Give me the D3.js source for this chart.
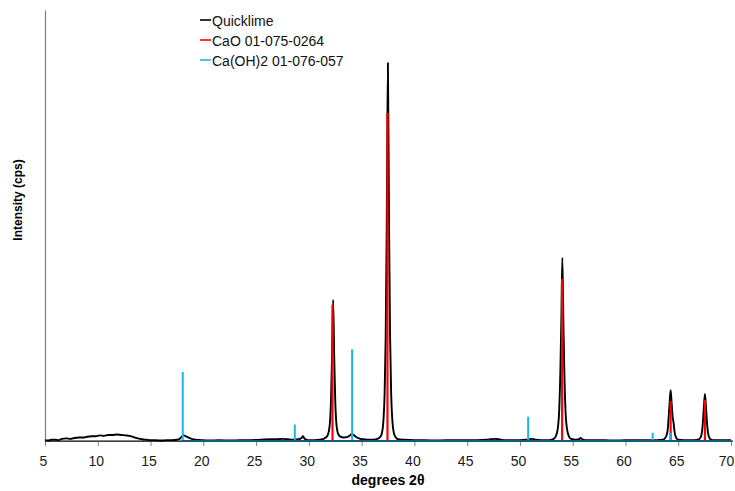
<!DOCTYPE html>
<html>
<head>
<meta charset="utf-8">
<script src="https://cdn.jsdelivr.net/npm/d3@7"></script>
<style>
  html, body { margin: 0; padding: 0; background: #fff; }
  svg { display: block; font-family: "Liberation Sans", Arial, sans-serif; }
</style>
</head>
<body>
<svg id="chart" width="735" height="491"></svg>
<script>
// ---- data ----
const xTicks = [5, 10, 15, 20, 25, 30, 35, 40, 45, 50, 55, 60, 65, 70];
const seriesNames = ["Quicklime", "CaO 01-075-0264", "Ca(OH)2 01-076-057"];
const seriesColors = ["#000000", "#ff0000", "#1fb2ea"];

// measured Quicklime pattern: [2theta, intensity]
const quicklime = [
  [5.0,2],[5.3,1],[5.6,3],[6.0,3],[6.3,2],[6.6,5],[7.0,6],[7.4,5],[7.8,7],[8.2,8],[8.6,8],
  [9.0,10],[9.4,11],[9.8,11],[10.2,13],[10.6,12],[11.0,14],[11.4,14],[11.8,15],[12.2,14],
  [12.6,13],[13.0,12],[13.4,9],[13.8,6],[14.2,4],[14.6,3],[15.0,2],[15.5,2],[16.0,1],[16.5,2],
  [17.0,2],[17.5,3],[17.8,6],[18.0,11],[18.15,13],[18.35,11],[18.6,8],[18.9,5],[19.3,3],
  [19.8,2],[20.5,1],[21.5,2],[22.5,1],[23.5,2],[24.5,2],[25.5,3],[26.5,4],[27.0,4],[27.5,5],
  [28.0,4],[28.5,3],[29.0,4],[29.3,7],[29.45,11],[29.6,5],[29.9,2],[30.5,2],[31.0,3],[31.4,5],
  [31.6,8],[31.8,14],[31.97,35],[32.1,95],[32.2,200],[32.3,327],[32.4,200],[32.5,95],[32.63,35],
  [32.8,15],[33.0,10],[33.3,8],[33.6,9],[33.85,12],[34.05,16],[34.2,15],[34.45,10],[34.75,6],
  [35.1,4],[35.6,3],[36.1,3],[36.5,5],[36.75,9],[36.92,18],[37.06,45],[37.18,110],[37.28,240],
  [37.38,500],[37.49,877],[37.6,500],[37.7,240],[37.8,110],[37.92,45],[38.06,18],[38.25,8],
  [38.5,4],[39.0,3],[40.0,2],[41.0,2],[42.0,1],[43.0,2],[44.0,2],[45.0,2],[46.0,2],[46.8,3],
  [47.2,4],[47.6,5],[48.0,4],[48.4,2],[49.0,2],[50.0,2],[50.6,3],[50.9,4],[51.2,5],[51.5,3],
  [52.0,2],[52.8,2],[53.2,5],[53.4,11],[53.58,28],[53.72,70],[53.84,170],[53.93,290],[54.02,425],
  [54.11,290],[54.2,170],[54.32,70],[54.46,28],[54.64,11],[54.85,5],[55.3,3],[55.6,4],[55.75,7],
  [55.9,4],[56.2,2],[57.0,2],[58.0,2],[59.0,1],[60.0,2],[61.0,2],[62.0,2],[63.0,2],[63.55,3],
  [63.8,8],[63.98,22],[64.12,65],[64.2,95],[64.28,118],[64.37,90],[64.46,58],[64.56,42],
  [64.66,20],[64.82,7],[65.0,3],[65.5,2],[66.5,2],[66.95,4],[67.15,10],[67.3,32],[67.42,75],
  [67.53,109],[67.64,75],[67.75,35],[67.88,12],[68.05,4],[68.3,2],[69.0,2],[70.0,2]
];

// reference stick patterns: [2theta, intensity]
const caoPeaks = [[32.24,316],[37.45,761],[54.0,376],[64.28,93],[67.53,95]];
const caoh2Peaks = [[18.05,160],[28.67,38],[34.1,213],[47.1,3],[50.78,56],[59.35,4],[62.58,19],[64.25,19]];

// ---- layout ----
const svg = d3.select("#chart");
const x = d3.scaleLinear().domain([5, 70]).range([45, 731]);
const y = d3.scaleLinear().domain([0, 1000]).range([441, 10]);

// y axis (no ticks)
const yAxis = svg.append("g")
  .attr("transform", `translate(${x(5)},0)`)
  .call(d3.axisLeft(y).tickValues([]).tickSizeOuter(0));
yAxis.select(".domain").attr("stroke", "#808080").attr("stroke-width", 1.2);

// x axis ticks + labels
const xAxis = svg.append("g")
  .attr("transform", `translate(0,${y(0)})`)
  .call(d3.axisBottom(x).tickValues(xTicks).tickSize(5).tickSizeOuter(0).tickPadding(10));
xAxis.selectAll(".tick line").attr("stroke", "#808080");
xAxis.selectAll(".tick text")
  .attr("font-size", 14).attr("fill", "#1a1a1a")
  .attr("font-family", "'Liberation Sans', Arial, sans-serif")
  .attr("dx", d => d === 70 ? -5 : -2);
xAxis.select(".domain").attr("stroke", "#808080").attr("stroke-width", 1.2);

// quicklime measured line
const line = d3.line()
  .x(d => x(d[0])).y(d => y(d[1]))
  .curve(d3.curveMonotoneX);
svg.append("path")
  .datum(quicklime)
  .attr("fill", "none")
  .attr("stroke", seriesColors[0])
  .attr("stroke-width", 1.9)
  .attr("stroke-linejoin", "round")
  .attr("d", line);

// stick pattern path builder
function sticks(peaks, xEnd) {
  const p = d3.path();
  p.moveTo(x(peaks[0][0]), y(0));
  peaks.forEach(d => {
    p.lineTo(x(d[0]), y(0));
    p.lineTo(x(d[0]), y(d[1]));
    p.lineTo(x(d[0]), y(0));
  });
  p.lineTo(x(xEnd), y(0));
  return p.toString();
}

svg.append("path")
  .attr("fill", "none")
  .attr("stroke", seriesColors[1])
  .attr("stroke-width", 2.2)
  .attr("d", sticks(caoPeaks, caoPeaks[caoPeaks.length - 1][0]));

svg.append("path")
  .attr("fill", "none")
  .attr("stroke", seriesColors[2])
  .attr("stroke-width", 2)
  .attr("d", sticks(caoh2Peaks, 70));

// darken baseline over blue pattern (axis line on top)
svg.append("line")
  .attr("x1", x(5)).attr("x2", x(70) + 2)
  .attr("y1", y(0)).attr("y2", y(0))
  .attr("stroke", "#000").attr("stroke-opacity", 0.65).attr("stroke-width", 1.3);

// axis titles
svg.append("text")
  .attr("x", 388).attr("y", 485)
  .attr("text-anchor", "middle")
  .attr("font-size", 14).attr("font-weight", "bold")
  .text("degrees 2θ");

svg.append("text")
  .attr("transform", "translate(22,200) rotate(-90)")
  .attr("text-anchor", "middle")
  .attr("font-size", 12).attr("font-weight", "bold")
  .text("Intensity (cps)");

// legend
const legend = svg.append("g").attr("transform", "translate(200,20)");
seriesNames.forEach((name, i) => {
  const g = legend.append("g").attr("transform", `translate(0,${i * 20})`);
  g.append("line").attr("x1", 0).attr("x2", 11).attr("y1", 0).attr("y2", 0)
    .attr("stroke", seriesColors[i]).attr("stroke-width", 1.6);
  g.append("text").attr("x", 12).attr("y", 6)
    .attr("font-size", 14).attr("fill", "#111")
    .text(name);
});
</script>
</body>
</html>
